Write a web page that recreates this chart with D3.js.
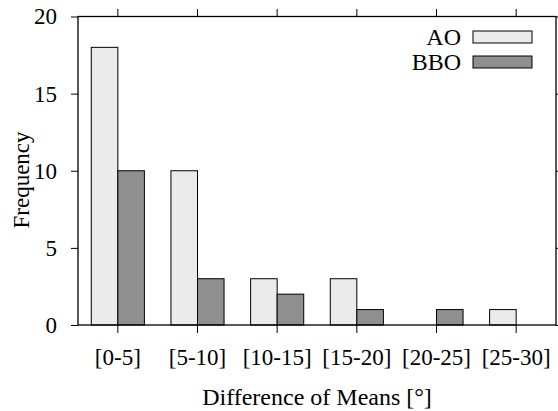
<!DOCTYPE html>
<html>
<head>
<meta charset="utf-8">
<script src="https://cdn.jsdelivr.net/npm/d3@7"></script>
<style>
  body { margin: 0; background: #fff; }
</style>
</head>
<body>
<div id="chart"></div>
<script>
// values
const categories = ['[0-5]', '[5-10]', '[10-15]', '[15-20]', '[20-25]', '[25-30]']
const seriesNames = ['AO', 'BBO']
const aoValues = [18, 10, 3, 3, 0, 1]
const bboValues = [10, 3, 2, 1, 1, 0]
const yTicks = [0, 5, 10, 15, 20]

const width = 558
const height = 411
const margin = { top: 16.5, right: 2, bottom: 86, left: 78 }
const fills = { AO: '#ebebeb', BBO: '#8f8f8f' }
const fontSize = 23
const serif = "'Liberation Serif', 'Times New Roman', Times, 'DejaVu Serif', serif"

const svg = d3.select('#chart').append('svg')
    .attr('width', width)
    .attr('height', height)
    .style('font-family', serif)

const x = d3.scaleBand()
    .domain(categories)
    .range([margin.left, width - margin.right])
    .padding(0)

const sub = d3.scaleBand()
    .domain(seriesNames)
    .range([x.bandwidth() / 6, x.bandwidth() * 5 / 6])

const y = d3.scaleLinear()
    .domain([0, 20])
    .range([height - margin.bottom, margin.top])

const rows = categories.map((c, i) => ({ cat: c, AO: aoValues[i], BBO: bboValues[i] }))

// bars
const groups = svg.append('g').selectAll('g')
    .data(rows).enter().append('g')
    .attr('transform', d => `translate(${x(d.cat)},0)`)

groups.selectAll('rect')
    .data(d => seriesNames.map(k => ({ key: k, value: d[k] })).filter(e => e.value > 0))
    .enter().append('rect')
    .attr('x', d => sub(d.key))
    .attr('width', sub.bandwidth())
    .attr('y', d => y(d.value))
    .attr('height', d => y(0) - y(d.value))
    .attr('fill', d => fills[d.key])
    .attr('stroke', '#000')
    .attr('stroke-width', 1)

// axes: ticks outward on all four sides
const tickStyle = g => {
    g.attr('font-family', null).attr('font-size', null)
    g.select('.domain').remove()
    g.selectAll('.tick line').attr('stroke', '#000').attr('stroke-width', 1)
    g.selectAll('text').style('font-family', serif).style('font-size', fontSize + 'px').attr('fill', '#000')
}

svg.append('g')
    .attr('transform', `translate(0,${y(0)})`)
    .call(d3.axisBottom(x).tickSize(8).tickPadding(16))
    .call(tickStyle)

svg.append('g')
    .attr('transform', `translate(0,${y(20)})`)
    .call(d3.axisTop(x).tickSize(7.5).tickFormat(''))
    .call(tickStyle)

svg.append('g')
    .attr('transform', `translate(${margin.left},0)`)
    .call(d3.axisLeft(y).tickValues(yTicks).tickSize(7).tickPadding(14))
    .call(tickStyle)

svg.append('g')
    .attr('transform', `translate(${width - margin.right},0)`)
    .call(d3.axisRight(y).tickValues(yTicks).tickSize(7).tickFormat(''))
    .call(tickStyle)

// plot border
svg.append('rect')
    .attr('x', margin.left)
    .attr('y', margin.top)
    .attr('width', width - margin.left - margin.right)
    .attr('height', y(0) - y(20))
    .attr('fill', 'none')
    .attr('stroke', '#000')
    .attr('stroke-width', 1.3)

// axis titles
svg.append('text')
    .attr('x', (margin.left + width - margin.right) / 2)
    .attr('y', 405)
    .attr('text-anchor', 'middle')
    .style('font-family', serif)
    .style('font-size', '24px')
    .text('Difference of Means [°]')

svg.append('text')
    .attr('transform', `translate(29,180) rotate(-90)`)
    .attr('text-anchor', 'middle')
    .style('font-family', serif)
    .style('font-size', fontSize + 'px')
    .text('Frequency')

// legend
const legend = svg.append('g').selectAll('g')
    .data(seriesNames).enter().append('g')
    .attr('transform', (d, i) => `translate(0,${37 + i * 25})`)

legend.append('text')
    .attr('x', 461)
    .attr('dy', '0.35em')
    .attr('text-anchor', 'end')
    .style('font-family', serif)
    .style('font-size', '24px')
    .text(d => d)

legend.append('rect')
    .attr('x', 473)
    .attr('y', -6)
    .attr('width', 59)
    .attr('height', 12)
    .attr('fill', d => fills[d])
    .attr('stroke', '#000')
    .attr('stroke-width', 1)
</script>
</body>
</html>
